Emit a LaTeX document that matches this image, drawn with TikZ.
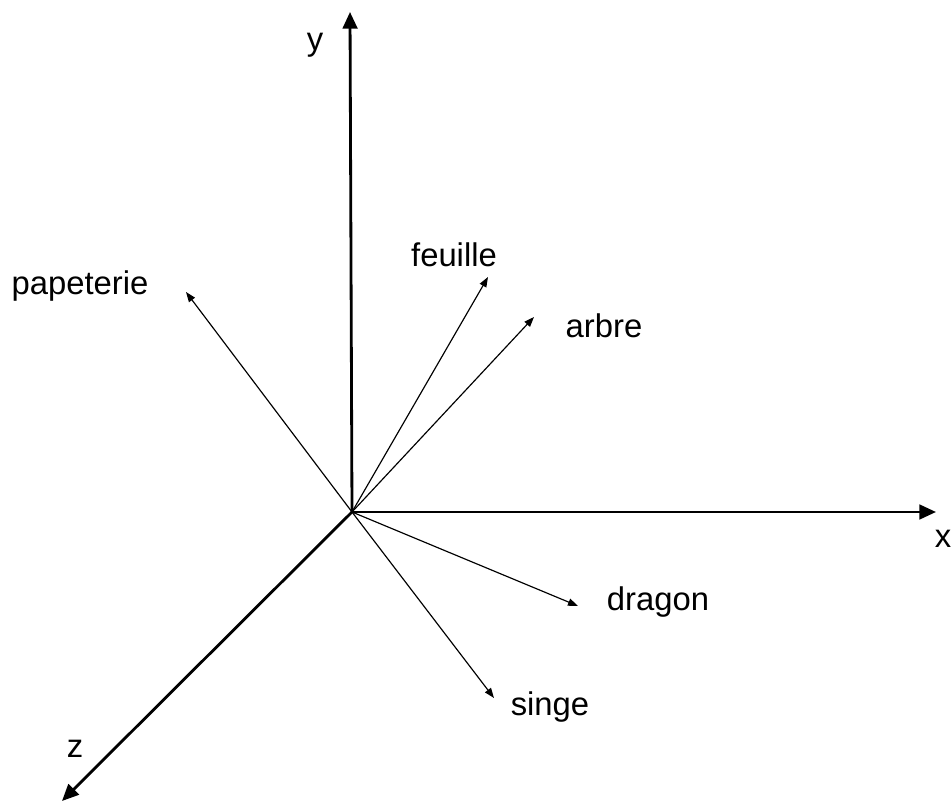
\documentclass[tikz,border=0pt]{standalone}
\usepackage{fontspec}
\setmainfont{Liberation Sans}
\usetikzlibrary{arrows.meta}

\begin{document}
\begin{tikzpicture}[x=0.3mm,y=-0.3mm,
  axis/.style={line width=2.4pt,-{Triangle[length=5mm,width=4.4mm]}},
  vect/.style={line width=1pt,-{Triangle[length=3mm,width=2.2mm]}},
  lbl/.style={anchor=base,inner sep=0pt,font=\fontsize{28}{33}\selectfont}]
\useasboundingbox (0,0) rectangle (951,812);
\coordinate (o) at (352,512);
% axes
\coordinate (ey) at (350,12);
\coordinate (ex) at (936,512);
\coordinate (ez) at (62,801);
\draw[axis] (o)--(ey);
\draw[axis] (o)--(ex);
\draw[axis] (o)--(ez);
\node[lbl] (ly) at (315,51) {y};
\node[lbl] (lx) at (943,547) {x};
\node[lbl] (lz) at (75,757) {z};
% word vectors
\coordinate (papeterie) at (186,292);
\coordinate (feuille) at (488,277);
\coordinate (arbre) at (534,317);
\coordinate (dragon) at (578,606);
\coordinate (singe) at (494,698);
\foreach \w in {papeterie,feuille,arbre,dragon,singe} \draw[vect] (o)--(\w);
\node[lbl] (lpapeterie) at (80,295) {papeterie};
\node[lbl] (lfeuille) at (454,267) {feuille};
\node[lbl] (larbre) at (604,338) {arbre};
\node[lbl] (ldragon) at (658,610) {dragon};
\node[lbl] (lsinge) at (550,715) {singe};
\end{tikzpicture}
\end{document}
